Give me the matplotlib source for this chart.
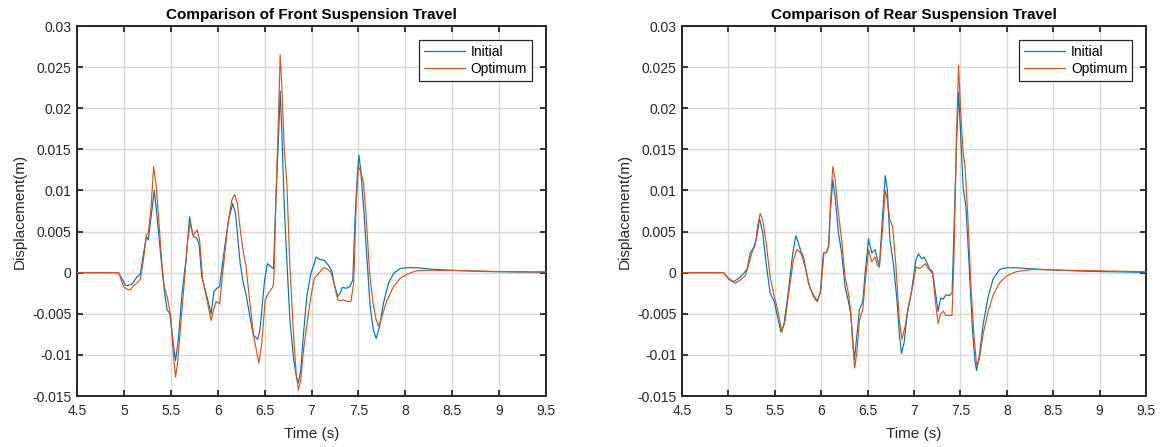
import matplotlib
matplotlib.use("Agg")
import matplotlib.pyplot as plt
from matplotlib.ticker import FixedLocator, FixedFormatter

plt.rcParams['font.family'] = ['Liberation Sans', 'DejaVu Sans']

# ---- Front suspension travel (m) ----
front_t_initial = [4.5, 4.944, 5.015, 5.03, 5.086, 5.14, 5.175, 5.21, 5.24, 5.26, 5.29, 5.324,
                   5.35, 5.39, 5.43, 5.46, 5.49, 5.53, 5.55, 5.58, 5.62, 5.665, 5.70, 5.725,
                   5.74, 5.77, 5.80, 5.83, 5.885, 5.93, 5.96, 5.99, 6.02, 6.06, 6.115, 6.16,
                   6.19, 6.24, 6.27, 6.30, 6.35, 6.38, 6.425, 6.45, 6.50, 6.53, 6.57, 6.595,
                   6.62, 6.65, 6.666, 6.684, 6.71, 6.737, 6.77, 6.81, 6.84, 6.86, 6.886, 6.915,
                   6.95, 6.993, 7.03, 7.05, 7.09, 7.135, 7.18, 7.217, 7.24, 7.28, 7.305, 7.33,
                   7.37, 7.41, 7.44, 7.465, 7.49, 7.505, 7.525, 7.56, 7.597, 7.625, 7.66, 7.69,
                   7.725, 7.767, 7.82, 7.874, 7.945, 8.016, 8.12, 8.30, 8.58, 8.94, 9.5]
front_initial = [0.0, 0.0, -0.0015, -0.0016, -0.0014, -0.0005, -0.0002, 0.0024, 0.0044, 0.0040,
                 0.0068, 0.0100, 0.0072, 0.0024, -0.0021, -0.0045, -0.0050, -0.0090, -0.0107,
                 -0.0082, -0.0025, 0.0019, 0.0068, 0.0052, 0.0044, 0.0043, 0.0036, -0.0005,
                 -0.0029, -0.0050, -0.0023, -0.0019, -0.0017, 0.0019, 0.0064, 0.0084, 0.0072,
                 0.0011, -0.0011, -0.0025, -0.0058, -0.0076, -0.0081, -0.0070, -0.0009, 0.0011,
                 0.0007, 0.0005, 0.0088, 0.0170, 0.0221, 0.0170, 0.0080, 0.0015, -0.0058,
                 -0.0106, -0.0127, -0.0134, -0.0118, -0.0074, -0.0029, -0.0001, 0.0011, 0.0019,
                 0.0016, 0.0015, 0.0009, 0.0002, -0.0013, -0.0029, -0.0025, -0.0018, -0.0019,
                 -0.0017, -0.0009, 0.0068, 0.0121, 0.0143, 0.0125, 0.0072, 0.0007, -0.0041,
                 -0.0070, -0.0080, -0.0066, -0.0037, -0.0013, -0.0001, 0.0005, 0.0006, 0.0006,
                 0.0004, 0.00025, 0.00012, 0.00005]

front_t_optimum = [4.5, 4.944, 4.997, 5.03, 5.07, 5.10, 5.146, 5.175, 5.21, 5.24, 5.26, 5.29,
                   5.317, 5.345, 5.377, 5.405, 5.43, 5.465, 5.50, 5.53, 5.55, 5.572, 5.61,
                   5.654, 5.68, 5.707, 5.736, 5.75, 5.78, 5.807, 5.84, 5.885, 5.93, 5.956,
                   5.984, 6.02, 6.06, 6.115, 6.15, 6.18, 6.21, 6.245, 6.275, 6.30, 6.34, 6.38,
                   6.418, 6.44, 6.47, 6.506, 6.54, 6.59, 6.60, 6.62, 6.65, 6.666, 6.684, 6.71,
                   6.737, 6.77, 6.81, 6.836, 6.86, 6.886, 6.915, 6.957, 6.993, 7.03, 7.075,
                   7.13, 7.16, 7.206, 7.24, 7.28, 7.31, 7.34, 7.384, 7.42, 7.45, 7.475, 7.50,
                   7.525, 7.555, 7.58, 7.62, 7.656, 7.69, 7.714, 7.75, 7.80, 7.874, 7.945,
                   8.016, 8.12, 8.30, 8.58, 8.94, 9.5]
front_optimum = [0.0, 0.0, -0.0017, -0.0020, -0.0021, -0.0016, -0.0012, -0.0008, 0.0017, 0.0046,
                 0.0048, 0.0080, 0.0129, 0.0105, 0.0056, 0.0011, -0.0017, -0.0031, -0.0054,
                 -0.0102, -0.0127, -0.0110, -0.0058, 0.0003, 0.0040, 0.0060, 0.0046, 0.0047,
                 0.0052, 0.0040, -0.0009, -0.0033, -0.0058, -0.0045, -0.0035, -0.0038, 0.0007,
                 0.0064, 0.0088, 0.0095, 0.0084, 0.0048, 0.0024, 0.0009, -0.0033, -0.0074,
                 -0.0098, -0.0110, -0.0086, -0.0033, -0.0025, -0.0017, -0.0005, 0.0088, 0.0198,
                 0.0265, 0.0226, 0.0149, 0.0109, 0.0007, -0.0078, -0.0122, -0.0143, -0.0130,
                 -0.0094, -0.0058, -0.0029, -0.0007, -0.0001, 0.0006, 0.0005, 0.0001, -0.0013,
                 -0.0033, -0.0034, -0.0033, -0.0035, -0.0035, -0.0013, 0.0080, 0.0129, 0.0123,
                 0.0109, 0.0072, -0.0001, -0.0037, -0.0058, -0.0065, -0.0054, -0.0035, -0.0017,
                 -0.0007, -0.0002, 0.00024, 0.0003, 0.00025, 0.00015, 0.00008]

# ---- Rear suspension travel (m) ----
rear_t_initial = [4.5, 4.948, 5.002, 5.056, 5.11, 5.156, 5.20, 5.235, 5.27, 5.30, 5.336, 5.37,
                  5.407, 5.45, 5.494, 5.53, 5.565, 5.60, 5.648, 5.694, 5.727, 5.755, 5.78,
                  5.81, 5.863, 5.917, 5.953, 5.99, 6.024, 6.053, 6.078, 6.10, 6.125, 6.15,
                  6.186, 6.22, 6.257, 6.293, 6.318, 6.34, 6.358, 6.383, 6.412, 6.448, 6.473,
                  6.51, 6.545, 6.58, 6.605, 6.627, 6.663, 6.69, 6.713, 6.74, 6.778, 6.813,
                  6.842, 6.864, 6.892, 6.928, 6.975, 7.02, 7.047, 7.083, 7.108, 7.136, 7.165,
                  7.20, 7.237, 7.26, 7.287, 7.316, 7.344, 7.38, 7.41, 7.43, 7.459, 7.48,
                  7.502, 7.53, 7.56, 7.595, 7.63, 7.656, 7.674, 7.703, 7.746, 7.80, 7.854,
                  7.925, 7.997, 8.10, 8.28, 8.535, 8.894, 9.5]
rear_initial = [0.0, 0.0, -0.0007, -0.0011, -0.0007, -0.0002, 0.0004, 0.0024, 0.0030, 0.0040,
                0.0066, 0.0048, 0.0011, -0.0025, -0.0035, -0.0054, -0.0072, -0.0062, -0.0021,
                0.0024, 0.0045, 0.0036, 0.0026, 0.0019, -0.0013, -0.0029, -0.0035, -0.0025,
                0.0024, 0.0024, 0.0032, 0.0076, 0.0113, 0.0092, 0.0048, 0.0024, -0.0017,
                -0.0035, -0.0050, -0.0082, -0.0106, -0.0078, -0.0045, -0.0035, -0.0001,
                0.0041, 0.0024, 0.0028, 0.0017, 0.0007, 0.0072, 0.0118, 0.0101, 0.0040,
                0.0011, -0.0029, -0.0074, -0.0098, -0.0086, -0.0050, -0.0021, 0.0015, 0.0023,
                0.0017, 0.0019, 0.0013, 0.0005, 0.0001, -0.0029, -0.0047, -0.0031, -0.0032,
                -0.0027, -0.0028, -0.0025, 0.0048, 0.0161, 0.0219, 0.0170, 0.0103, 0.0080,
                0.0007, -0.0070, -0.0106, -0.0119, -0.0102, -0.0062, -0.0029, -0.0007, 0.0004,
                0.0006, 0.0006, 0.00045, 0.0003, 0.00016, 0.00004]

rear_t_optimum = [4.5, 4.948, 5.002, 5.074, 5.128, 5.18, 5.217, 5.253, 5.29, 5.314, 5.343,
                  5.37, 5.407, 5.45, 5.486, 5.53, 5.576, 5.612, 5.66, 5.70, 5.738, 5.78,
                  5.827, 5.88, 5.917, 5.96, 5.996, 6.03, 6.06, 6.082, 6.10, 6.125, 6.15,
                  6.186, 6.22, 6.257, 6.293, 6.318, 6.34, 6.36, 6.383, 6.412, 6.448, 6.473,
                  6.51, 6.545, 6.58, 6.605, 6.627, 6.663, 6.69, 6.713, 6.74, 6.77, 6.806,
                  6.842, 6.87, 6.903, 6.94, 6.986, 7.02, 7.058, 7.083, 7.12, 7.154, 7.20,
                  7.237, 7.26, 7.287, 7.316, 7.344, 7.38, 7.41, 7.43, 7.459, 7.48, 7.502,
                  7.53, 7.55, 7.58, 7.616, 7.645, 7.674, 7.703, 7.746, 7.80, 7.854, 7.925,
                  7.997, 8.10, 8.28, 8.535, 8.894, 9.5]
rear_optimum = [0.0, 0.0, -0.0008, -0.0013, -0.0009, -0.0004, 0.0009, 0.0024, 0.0034, 0.0056,
                0.0072, 0.0064, 0.0036, -0.0005, -0.0025, -0.0045, -0.0072, -0.0058, -0.0017,
                0.0015, 0.0028, 0.0024, 0.0007, -0.0019, -0.0027, -0.0035, -0.0021, 0.0024,
                0.0025, 0.0032, 0.0084, 0.0129, 0.0113, 0.0072, 0.0040, -0.0005, -0.0025,
                -0.0047, -0.0086, -0.0116, -0.0098, -0.0058, -0.0045, -0.0013, 0.0028, 0.0013,
                0.0019, 0.0009, 0.0007, 0.0056, 0.0100, 0.0088, 0.0064, 0.0056, 0.0007,
                -0.0058, -0.0081, -0.0066, -0.0041, -0.0017, 0.0007, 0.0005, 0.0007, 0.0011,
                0.0005, -0.0001, -0.0041, -0.0062, -0.0050, -0.0047, -0.0052, -0.0052,
                -0.0052, 0.0015, 0.0170, 0.0252, 0.0198, 0.0145, 0.0129, 0.0068, -0.0021,
                -0.0074, -0.0112, -0.0106, -0.0074, -0.0047, -0.0027, -0.0012, -0.0004,
                0.00012, 0.0004, 0.00032, 0.00024, 0.00012]

x_ticks = [4.5, 5, 5.5, 6, 6.5, 7, 7.5, 8, 8.5, 9, 9.5]
x_tick_labels = ['4.5', '5', '5.5', '6', '6.5', '7', '7.5', '8', '8.5', '9', '9.5']
y_ticks = [-0.015, -0.01, -0.005, 0, 0.005, 0.01, 0.015, 0.02, 0.025, 0.03]
y_tick_labels = ['-0.015', '-0.01', '-0.005', '0', '0.005', '0.01', '0.015', '0.02', '0.025', '0.03']

titles = ['Comparison of Front Suspension Travel', 'Comparison of Rear Suspension Travel']
series_names = ['Initial', 'Optimum']

BLUE = '#0072BD'
ORANGE = '#D95319'
DARK = '#262626'

fig = plt.figure(figsize=(11.67, 4.47), dpi=100)
ax_front = fig.add_axes([77 / 1167, 1 - 396 / 447, 469 / 1167, 370 / 447])
ax_rear = fig.add_axes([682 / 1167, 1 - 396 / 447, 464 / 1167, 370 / 447])

panels = [
    (ax_front, front_t_initial, front_initial, front_t_optimum, front_optimum, titles[0]),
    (ax_rear, rear_t_initial, rear_initial, rear_t_optimum, rear_optimum, titles[1]),
]

for ax, ti, yi, to, yo, title in panels:
    ax.plot(ti, yi, color=BLUE, lw=0.85, label=series_names[0], zorder=3,
            solid_joinstyle='round')
    ax.plot(to, yo, color=ORANGE, lw=0.85, label=series_names[1], zorder=3,
            solid_joinstyle='round')
    ax.set_xlim(4.5, 9.5)
    ax.set_ylim(-0.015, 0.03)
    ax.xaxis.set_major_locator(FixedLocator(x_ticks))
    ax.xaxis.set_major_formatter(FixedFormatter(x_tick_labels))
    ax.yaxis.set_major_locator(FixedLocator(y_ticks))
    ax.yaxis.set_major_formatter(FixedFormatter(y_tick_labels))
    ax.grid(True, color='#d8d8d8', lw=1.0, zorder=0)
    ax.tick_params(direction='in', length=4, width=1.3, colors=DARK, labelsize=10,
                   top=True, right=True)
    ax.tick_params(axis='x', pad=6)
    ax.tick_params(axis='y', pad=4)
    for sp in ax.spines.values():
        sp.set_color(DARK)
        sp.set_linewidth(1.4)
    ax.set_title(title, fontsize=11, fontweight='bold', color='black', pad=5)
    ax.set_xlabel('Time (s)', fontsize=11, color=DARK, labelpad=6)
    ax.set_ylabel('Displacement(m)', fontsize=11, color=DARK, labelpad=4)
    leg = ax.legend(loc='upper right', fontsize=10, frameon=True, fancybox=False,
                    edgecolor=DARK, framealpha=1.0, handlelength=3.0,
                    handletextpad=0.4, borderpad=0.35, labelspacing=0.25,
                    borderaxespad=1.0)
    leg.get_frame().set_linewidth(0.9)

fig.savefig('out.png', dpi=100)
